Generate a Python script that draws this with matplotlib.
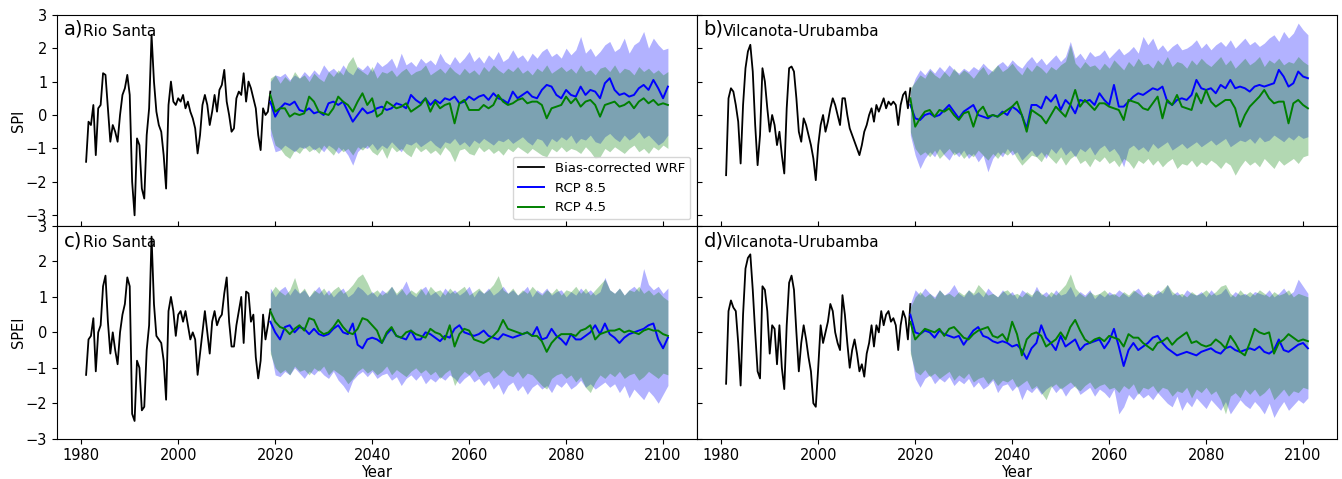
import numpy as np
import matplotlib
matplotlib.use("Agg")
import matplotlib.pyplot as plt

# ---------------- data ----------------
hist_start, hist_end, hist_step = 1981.0, 2019.0, 0.5
proj_start, proj_end = 2019, 2101

# a) SPI Rio Santa
spi_rs_hist = [
    -1.4, -0.2, -0.3, 0.3, -1.2, 0.2, 0.3, 1.25, 1.2, 0.2,
    -0.8, -0.3, -0.5, -0.8, 0.0, 0.6, 0.8, 1.2, 0.6, -2.0,
    -3.0, -0.7, -0.9, -2.2, -2.5, -0.6, 0.2, 2.4, 1.0, 0.1,
    -0.3, -0.5, -1.2, -2.2, 0.3, 1.0, 0.4, 0.3, 0.5, 0.4,
    0.6, 0.2, 0.4, 0.1, -0.1, -0.4, -1.15, -0.6, 0.3, 0.6,
    0.3, -0.3, 0.1, 0.6, 0.1, 0.75, 0.9, 1.35, 0.4, 0.0,
    -0.5, -0.4, 0.5, 0.7, 0.6, 1.25, 0.4, 1.0, 0.8, 0.5,
    0.2, -0.6, -1.05, 0.2, 0.0, 0.1, 0.7]
spi_rs_85 = [
    0.4, -0.05, 0.2, 0.35, 0.3, 0.4, 0.15, 0.1, 0.2, 0.05,
    0.1, 0.0, 0.35, 0.4, 0.3, 0.4, 0.1, -0.2, 0.0, 0.2,
    0.05, 0.1, 0.2, 0.25, 0.15, 0.2, 0.35, 0.3, 0.2, 0.6,
    0.45, 0.35, 0.5, 0.3, 0.45, 0.35, 0.5, 0.45, 0.55, 0.35,
    0.4, 0.55, 0.45, 0.55, 0.6, 0.45, 0.65, 0.5, 0.45, 0.35,
    0.7, 0.5, 0.6, 0.7, 0.55, 0.5, 0.75, 0.9, 0.85, 0.6,
    0.5, 0.75, 0.6, 0.55, 0.85, 0.6, 0.75, 0.7, 0.5, 0.95,
    1.1, 0.75, 0.6, 0.65, 0.55, 0.6, 0.8, 0.9, 0.75, 1.05,
    0.8, 0.5, 0.85]
spi_rs_45 = [
    0.6, 0.1, 0.2, 0.2, -0.05, 0.05, 0.0, 0.05, 0.55, 0.4,
    0.1, 0.05, 0.0, 0.2, 0.55, 0.4, 0.3, 0.1, 0.4, 0.65,
    0.3, 0.5, -0.05, 0.05, 0.4, 0.3, 0.2, 0.25, 0.35, 0.1,
    0.2, 0.3, 0.5, 0.1, 0.4, 0.2, 0.3, 0.35, -0.25, 0.35,
    0.45, 0.15, 0.15, 0.15, 0.3, 0.2, 0.3, 0.6, 0.4, 0.3,
    0.35, 0.45, 0.5, 0.35, 0.4, 0.4, 0.3, -0.1, 0.2, 0.25,
    0.3, 0.55, 0.35, 0.5, 0.25, 0.4, 0.45, 0.3, -0.05, 0.3,
    0.35, 0.4, 0.25, 0.3, 0.4, 0.2, 0.4, 0.5, 0.35, 0.45,
    0.3, 0.35, 0.3]
spi_rs_85_hi = [
    1.0, 1.2, 1.15, 1.25, 1.05, 1.2, 1.1, 1.3, 1.15, 1.35,
    1.2, 1.5, 1.3, 1.4, 1.25, 1.5, 1.3, 1.2, 1.45, 1.35,
    1.5, 1.3, 1.6, 1.45, 1.55, 1.7, 1.4, 1.85, 1.5, 1.6,
    1.45, 1.7, 1.55, 1.65, 1.5, 1.85, 1.6, 1.5, 1.75, 1.55,
    1.7, 1.9, 1.6, 1.75, 1.55, 1.8, 1.65, 1.9, 1.6, 1.7,
    1.95, 1.7, 1.8, 1.6, 1.85, 1.7, 1.9, 2.0, 1.75, 1.85,
    1.7, 2.0, 1.8, 1.95, 2.35, 1.85, 2.0, 1.75, 1.9, 2.1,
    2.2, 1.9, 2.0, 2.3, 1.85, 2.1, 2.2, 2.5, 2.0, 2.3,
    2.1, 1.95, 2.0]
spi_rs_85_lo = [
    -0.6, -1.1, -1.05, -0.9, -1.0, -1.1, -0.95, -1.0, -0.9, -1.05,
    -0.95, -1.1, -0.9, -1.0, -1.15, -1.0, -1.2, -1.5, -1.1, -0.95,
    -1.0, -0.85, -1.05, -0.9, -1.0, -0.8, -0.95, -1.1, -0.85, -0.9,
    -0.8, -0.95, -0.85, -0.75, -0.9, -1.0, -0.8, -0.85, -0.7, -0.9,
    -0.8, -0.95, -0.75, -0.85, -0.7, -0.8, -0.9, -0.75, -0.8, -0.7,
    -0.85, -0.75, -0.65, -0.8, -0.9, -0.7, -0.75, -0.95, -0.7, -0.8,
    -0.65, -0.75, -0.6, -0.85, -0.7, -0.75, -0.6, -0.8, -0.85, -0.65,
    -0.55, -0.7, -0.8, -0.6, -0.75, -0.65, -0.5, -0.7, -0.6, -0.75,
    -0.9, -0.8, -0.6]
spi_rs_45_hi = [
    1.1, 1.2, 0.95, 1.15, 1.0, 1.3, 1.1, 1.2, 1.0, 1.25,
    1.1, 1.0, 1.3, 1.15, 1.35, 1.2, 1.55, 1.75, 1.4, 1.3,
    1.2, 1.45, 1.1, 1.3, 1.25, 1.35, 1.15, 1.3, 1.4, 1.2,
    1.3, 1.35, 1.5, 1.2, 1.3, 1.4, 1.25, 1.45, 1.3, 1.2,
    1.4, 1.25, 1.35, 1.2, 1.45, 1.3, 1.5, 1.35, 1.25, 1.4,
    1.3, 1.45, 1.25, 1.35, 1.2, 1.4, 1.3, 1.5, 1.25, 1.35,
    1.45, 1.3, 1.4, 1.25, 1.5, 1.3, 1.35, 1.2, 1.4, 1.45,
    1.3, 1.5, 1.25, 1.4, 1.35, 1.2, 1.45, 1.3, 1.4, 1.25,
    1.35, 1.2, 1.3]
spi_rs_45_lo = [
    -0.4, -0.9, -1.0, -1.2, -1.3, -1.05, -1.15, -0.95, -1.1, -1.0,
    -1.15, -0.9, -1.05, -1.2, -0.95, -1.1, -1.0, -1.2, -0.95, -1.05,
    -0.9, -1.1, -1.2, -1.0, -1.3, -0.95, -1.1, -1.0, -1.15, -1.25,
    -0.95, -1.1, -1.0, -1.15, -1.05, -1.2, -0.95, -1.1, -1.4, -1.05,
    -1.0, -1.15, -1.2, -0.95, -1.1, -1.0, -1.15, -1.05, -1.2, -1.0,
    -1.1, -0.95, -1.05, -1.15, -1.0, -1.1, -1.2, -1.25, -1.0, -1.1,
    -0.95, -1.1, -1.0, -1.05, -1.15, -0.95, -1.1, -1.3, -1.25, -1.0,
    -1.1, -0.95, -1.05, -1.15, -1.0, -0.9, -1.1, -1.0, -1.15, -0.95,
    -1.05, -0.9, -1.0]

# b) SPI Vilcanota-Urubamba
spi_vu_hist = [
    -1.8, 0.5, 0.8, 0.7, 0.3, -0.2, -1.45, 0.3, 1.4, 1.9,
    2.1, 1.3, -0.3, -1.5, -0.6, 1.4, 1.0, 0.2, -0.5, 0.0,
    -0.3, -0.9, -0.5, -1.2, -1.75, 0.2, 1.4, 1.45, 1.3, 0.5,
    -0.5, -0.8, -0.1, -0.3, -0.6, -0.9, -1.3, -1.95, -0.9, -0.3,
    0.0, -0.5, -0.2, 0.2, 0.5, 0.3, 0.0, -0.3, 0.5, 0.5,
    0.0, -0.4, -0.6, -0.8, -1.0, -1.2, -0.9, -0.5, -0.3, 0.0,
    0.2, -0.2, 0.3, 0.1, 0.3, 0.5, 0.2, 0.4, 0.3, 0.4,
    0.3, -0.3, 0.3, 0.6, 0.7, 0.2, 0.8]
spi_vu_85 = [
    0.3, -0.1, -0.15, 0.0, 0.05, -0.05, 0.0, 0.15, 0.3, 0.1,
    -0.1, 0.1, 0.2, 0.3, 0.0, -0.05, -0.1, 0.0, -0.05, 0.1,
    0.0, 0.25, 0.15, 0.0, -0.4, 0.3, 0.3, 0.2, 0.55, 0.4,
    0.6, 0.15, 0.45, 0.3, 0.05, 0.45, 0.4, 0.45, 0.3, 0.65,
    0.45, 0.3, 0.9, 0.25, 0.25, 0.4, 0.55, 0.65, 0.6, 0.7,
    0.8, 0.75, 0.85, 0.4, 0.3, 0.45, 0.5, 0.45, 0.6, 1.05,
    0.8, 0.75, 0.8, 0.65, 0.9, 0.8, 1.05, 0.8, 0.85, 0.8,
    0.7, 0.85, 0.9, 0.85, 0.9, 0.95, 1.35, 1.15, 0.85, 0.95,
    1.3, 1.15, 1.1]
spi_vu_45 = [
    0.5, -0.35, -0.1, 0.1, 0.15, -0.05, 0.15, 0.1, 0.2, 0.0,
    -0.15, 0.05, 0.1, -0.35, 0.1, 0.25, -0.05, 0.0, -0.05, 0.05,
    0.15, 0.25, 0.4, 0.0, -0.5, 0.15, 0.05, -0.05, -0.25, 0.0,
    0.25, 0.1, -0.05, 0.3, 0.75, 0.25, 0.45, 0.3, 0.15, 0.35,
    0.35, 0.25, 0.2, 0.15, -0.15, 0.45, 0.4, 0.35, 0.2, 0.15,
    0.35, 0.55, -0.1, 0.45, 0.3, 0.6, 0.25, 0.2, 0.15, 0.65,
    0.35, 0.75, 0.4, 0.25, 0.35, 0.45, 0.45, 0.2, -0.35, 0.0,
    0.25, 0.4, 0.55, 0.75, 0.5, 0.35, 0.4, 0.4, -0.25, 0.35,
    0.45, 0.3, 0.2]
spi_vu_85_hi = [
    0.7, 1.1, 1.35, 1.2, 1.4, 1.25, 1.45, 1.3, 1.5, 1.35,
    1.25, 1.4, 1.3, 1.45, 1.35, 1.55, 1.4, 1.3, 1.5, 1.6,
    1.45, 1.65, 1.5, 1.4, 1.6, 1.75, 1.55, 1.7, 1.5, 1.65,
    1.8, 1.6, 1.75, 2.2, 1.7, 1.85, 1.65, 1.9, 1.75, 1.8,
    1.95, 1.7, 1.85, 2.0, 1.8, 1.9, 2.05, 1.85, 2.35, 2.1,
    2.3, 1.95, 2.1, 1.9, 2.05, 2.15, 1.95, 2.0, 2.1, 2.25,
    2.0, 2.15, 1.95, 2.1, 2.2, 2.05, 2.25, 2.0, 2.15, 2.3,
    2.1, 2.2, 2.05, 2.15, 2.3, 2.4, 2.2, 2.5, 2.3, 2.45,
    2.75, 2.55, 2.4]
spi_vu_85_lo = [
    -0.6, -1.2, -1.6, -1.3, -1.1, -1.25, -1.0, -1.2, -1.35, -1.1,
    -1.25, -1.05, -1.3, -1.15, -1.4, -1.2, -1.7, -1.3, -1.1, -1.25,
    -1.0, -1.2, -1.1, -1.35, -1.2, -1.05, -1.25, -1.1, -1.3, -1.0,
    -1.15, -0.95, -1.2, -1.05, -1.25, -1.0, -1.1, -0.95, -1.2, -1.0,
    -0.9, -1.1, -1.0, -1.2, -1.55, -1.0, -0.9, -1.05, -0.95, -1.1,
    -0.85, -1.0, -0.9, -0.8, -1.05, -0.95, -0.85, -1.0, -0.9, -0.8,
    -0.95, -0.85, -0.75, -0.9, -0.8, -0.7, -0.95, -0.85, -0.75, -0.8,
    -0.7, -0.85, -0.65, -0.8, -0.75, -0.6, -0.7, -0.8, -0.65, -0.75,
    -0.6, -0.7, -0.65]
spi_vu_45_hi = [
    0.8, 1.0, 1.2, 1.1, 1.35, 1.2, 1.1, 1.3, 1.15, 1.4,
    1.2, 1.35, 1.25, 1.1, 1.3, 1.45, 1.2, 1.35, 1.5, 1.3,
    1.4, 1.55, 1.35, 1.2, 1.45, 1.3, 1.5, 1.4, 1.25, 1.45,
    1.35, 1.5, 1.6, 2.1, 1.55, 1.4, 1.6, 1.45, 1.5, 1.35,
    1.55, 1.4, 1.65, 1.5, 1.35, 1.6, 1.45, 1.7, 1.5, 1.55,
    1.4, 1.65, 1.5, 1.75, 1.45, 1.6, 1.55, 1.4, 1.65, 1.5,
    1.7, 1.55, 1.45, 1.6, 1.75, 1.5, 1.65, 1.4, 1.55, 1.7,
    1.5, 1.6, 1.75, 1.45, 1.65, 1.55, 1.7, 1.5, 1.6, 1.55,
    1.75, 1.6, 1.5]
spi_vu_45_lo = [
    -0.5, -1.0, -1.2, -1.1, -1.25, -1.05, -1.3, -1.15, -1.0, -1.2,
    -1.1, -1.3, -1.15, -1.25, -1.05, -1.2, -1.35, -1.15, -1.3, -1.1,
    -1.2, -1.05, -1.3, -1.5, -1.35, -1.2, -1.25, -1.4, -1.15, -1.3,
    -1.45, -1.25, -1.5, -1.3, -1.2, -1.45, -1.35, -1.55, -1.3, -1.4,
    -1.25, -1.45, -1.35, -1.55, -1.3, -1.4, -1.6, -1.35, -1.45, -1.3,
    -1.5, -1.35, -1.55, -1.4, -1.3, -1.6, -1.45, -1.5, -1.35, -1.55,
    -1.4, -1.5, -1.35, -1.45, -1.6, -1.4, -1.5, -1.8, -1.55, -1.35,
    -1.5, -1.4, -1.55, -1.3, -1.45, -1.6, -1.35, -1.5, -1.4, -1.3,
    -1.45, -1.25, -1.2]

# c) SPEI Rio Santa
spei_rs_hist = [
    -1.2, -0.2, -0.1, 0.4, -1.1, 0.0, 0.2, 1.3, 1.6, 0.3,
    -0.6, 0.0, -0.5, -0.9, 0.0, 0.5, 0.8, 1.55, 1.3, -2.3,
    -2.5, -0.8, -1.0, -2.2, -2.1, -0.5, 0.2, 2.7, 0.8, -0.1,
    -0.2, -0.3, -0.8, -1.9, 0.6, 1.0, 0.6, -0.1, 0.5, 0.6,
    0.3, 0.6, 0.2, -0.2, 0.0, -0.2, -1.2, -0.6, 0.0, 0.6,
    0.0, -0.6, 0.3, 0.6, 0.2, 0.4, 0.5, 1.1, 1.55, 0.3,
    -0.4, -0.4, 0.2, 0.6, 1.0, -0.3, 1.15, 1.1, 0.3, 0.5,
    -0.7, -1.3, -0.8, 0.5, -0.2, 0.2, 0.65]
spei_rs_85 = [
    0.3, 0.0, -0.2, 0.15, 0.2, 0.0, 0.15, 0.1, -0.05, 0.1,
    -0.05, -0.1, -0.05, 0.1, 0.2, 0.0, -0.05, 0.25, -0.35, -0.45,
    -0.2, -0.15, -0.2, -0.3, -0.05, 0.1, -0.1, -0.15, -0.2, 0.05,
    -0.2, -0.2, 0.0, -0.05, -0.15, -0.25, -0.1, -0.15, 0.1, 0.2,
    0.0, -0.05, -0.1, -0.05, 0.05, -0.1, -0.15, -0.2, -0.05, -0.1,
    -0.15, -0.1, -0.05, 0.0, -0.1, 0.15, -0.2, -0.15, 0.1, -0.1,
    -0.2, -0.35, -0.05, -0.2, -0.2, -0.1, 0.0, 0.2, -0.05, 0.25,
    -0.05, -0.15, -0.3, -0.15, -0.05, 0.0, 0.05, 0.1, 0.2, 0.25,
    -0.2, -0.45, -0.15]
spei_rs_45 = [
    0.6, 0.3, 0.15, 0.1, -0.05, 0.1, 0.2, 0.05, 0.4, 0.35,
    0.05, -0.05, 0.0, 0.15, 0.35, 0.15, 0.0, -0.05, 0.1, 0.4,
    0.35, 0.2, 0.05, -0.3, 0.0, 0.15, -0.1, -0.15, 0.0, 0.05,
    -0.05, -0.1, -0.15, 0.1, 0.0, -0.05, -0.2, 0.2, -0.4, -0.05,
    0.1, 0.05, -0.2, -0.25, -0.3, -0.2, -0.1, 0.05, 0.35, 0.1,
    0.05, 0.0, -0.05, 0.0, -0.1, -0.1, -0.25, -0.55, -0.3, -0.15,
    -0.05, -0.05, -0.05, -0.1, 0.05, 0.1, 0.2, -0.2, -0.05, 0.0,
    0.05, 0.05, 0.1, 0.0, 0.05, 0.0, -0.05, 0.05, 0.1, 0.05,
    0.05, -0.05, -0.1]
spei_rs_85_hi = [
    1.25, 1.0, 1.2, 1.3, 1.05, 1.25, 1.1, 1.2, 1.0, 1.15,
    1.3, 1.05, 1.2, 1.0, 1.15, 1.25, 1.0, 1.1, 1.3, 1.2,
    1.05, 1.15, 1.0, 1.2, 1.1, 1.3, 1.05, 1.2, 1.45, 1.1,
    1.0, 1.2, 1.3, 1.05, 1.15, 1.0, 1.25, 1.1, 1.2, 1.05,
    1.15, 1.3, 1.0, 1.2, 1.1, 1.25, 1.05, 1.15, 1.3, 1.1,
    1.2, 1.05, 1.15, 1.3, 1.0, 1.2, 1.1, 1.25, 1.05, 1.15,
    1.2, 1.0, 1.15, 1.05, 1.25, 1.1, 1.2, 1.05, 1.15, 1.55,
    1.2, 1.1, 1.25, 1.05, 1.2, 1.3, 1.15, 1.8, 1.35, 1.2,
    1.3, 1.1, 1.25]
spei_rs_85_lo = [
    -0.5, -1.2, -1.25, -1.1, -1.2, -1.0, -1.15, -1.3, -1.1, -1.2,
    -1.05, -1.2, -1.3, -1.1, -1.35, -1.5, -1.7, -1.35, -1.2, -1.1,
    -1.25, -1.1, -1.3, -1.2, -1.15, -1.35, -1.25, -1.5, -1.3, -1.2,
    -1.35, -1.2, -1.45, -1.3, -1.4, -1.25, -1.35, -1.2, -1.3, -1.45,
    -1.3, -1.2, -1.4, -1.3, -1.5, -1.35, -1.6, -1.45, -1.75, -1.5,
    -1.4, -1.65, -1.5, -1.75, -1.55, -1.45, -1.6, -1.5, -1.7, -1.45,
    -1.55, -1.4, -1.6, -1.5, -1.35, -1.55, -1.45, -1.6, -1.5, -1.4,
    -1.55, -1.45, -1.7, -1.5, -1.85, -1.6, -1.75, -1.9, -1.65, -1.8,
    -2.0, -1.75, -1.5]
spei_rs_45_hi = [
    1.1, 1.3, 1.15, 1.05, 1.2, 1.55, 1.1, 1.25, 1.0, 1.2,
    1.1, 1.25, 1.05, 1.2, 1.3, 1.1, 1.2, 1.35, 1.55, 1.65,
    1.4, 1.1, 1.2, 1.05, 1.15, 1.3, 1.1, 1.25, 1.05, 1.2,
    1.1, 1.25, 1.05, 1.3, 1.15, 1.2, 1.05, 1.25, 1.1, 1.2,
    1.3, 1.05, 1.15, 1.25, 1.1, 1.2, 1.35, 1.6, 1.2, 1.1,
    1.25, 1.05, 1.2, 1.1, 1.3, 1.15, 1.05, 1.2, 1.1, 1.25,
    1.05, 1.2, 1.15, 1.3, 1.1, 1.25, 1.05, 1.2, 1.35, 1.5,
    1.2, 1.1, 1.25, 1.05, 1.2, 1.15, 1.3, 1.1, 1.2, 1.05,
    1.15, 1.0, 0.9]
spei_rs_45_lo = [
    -0.6, -1.0, -1.15, -1.05, -1.2, -0.95, -1.1, -1.05, -1.2, -1.0,
    -1.1, -0.95, -1.2, -1.05, -1.15, -1.25, -1.45, -1.3, -1.1, -1.0,
    -1.15, -1.05, -1.2, -1.1, -0.95, -1.2, -1.05, -1.15, -1.25, -1.1,
    -1.0, -1.15, -1.05, -1.2, -1.1, -1.3, -1.15, -1.05, -1.5, -1.25,
    -1.1, -1.2, -1.05, -1.25, -1.15, -1.1, -1.3, -1.2, -1.05, -1.2,
    -1.25, -1.1, -1.3, -1.15, -1.2, -1.35, -1.5, -1.6, -1.3, -1.2,
    -1.15, -1.3, -1.2, -1.4, -1.25, -1.55, -1.7, -1.4, -1.2, -1.3,
    -1.15, -1.25, -1.1, -1.3, -1.2, -1.15, -1.35, -1.25, -1.1, -1.2,
    -1.3, -1.15, -1.2]

# d) SPEI Vilcanota-Urubamba
spei_vu_hist = [
    -1.45, 0.6, 0.9, 0.7, 0.6, -0.3, -1.5, 0.5, 1.8, 2.1,
    2.2, 1.2, 0.0, -1.1, -1.3, 1.3, 1.2, 0.6, -0.6, 0.2,
    0.1, -0.9, 0.2, -1.0, -1.6, 0.2, 1.4, 1.6, 1.2, 0.0,
    -1.1, -0.3, 0.2, -0.2, -0.7, -1.1, -2.0, -2.1, -1.0, 0.2,
    -0.3, 0.0, 0.3, 0.8, 0.6, 0.0, -0.3, -0.5, 1.05, 0.5,
    -0.3, -1.0, -0.5, -0.2, -0.6, -1.1, -0.9, -1.25, -0.6, -0.3,
    0.2, -0.4, 0.2, 0.0, 0.6, 0.2, 0.5, 0.6, 0.3, 0.4,
    0.2, -0.5, 0.2, 0.6, 0.4, -0.2, 0.8]
spei_vu_85 = [
    0.5, 0.0, -0.05, 0.05, 0.0, -0.15, 0.05, -0.05, -0.1, -0.15,
    -0.1, -0.35, -0.15, 0.05, 0.15, -0.1, -0.15, -0.25, -0.3, -0.25,
    -0.3, -0.4, -0.35, -0.5, -0.75, -0.45, -0.3, 0.2, -0.15, -0.3,
    -0.5, -0.1, -0.4, -0.3, -0.2, -0.5, -0.35, -0.3, -0.25, -0.2,
    -0.45, -0.25, 0.1, -0.4, -0.95, -0.5, -0.3, -0.5, -0.4, -0.3,
    -0.15, -0.1, -0.3, -0.45, -0.55, -0.65, -0.6, -0.55, -0.6, -0.65,
    -0.55, -0.5, -0.45, -0.55, -0.6, -0.45, -0.4, -0.5, -0.55, -0.5,
    -0.45, -0.5, -0.4, -0.55, -0.6, -0.5, -0.2, -0.5, -0.55, -0.45,
    -0.35, -0.3, -0.45]
spei_vu_45 = [
    0.3, -0.2, -0.05, 0.1, 0.05, 0.0, 0.1, -0.1, 0.1, 0.15,
    0.0, -0.15, -0.2, -0.05, 0.05, 0.1, 0.15, -0.1, -0.15, -0.05,
    -0.25, 0.3, -0.05, -0.65, -0.2, -0.05, 0.0, -0.1, -0.4, -0.3,
    -0.2, 0.0, -0.2, 0.15, 0.35, 0.05, -0.2, -0.3, -0.2, -0.15,
    -0.25, -0.1, -0.15, -0.2, -0.4, -0.05, -0.15, -0.15, -0.3, -0.4,
    -0.5, -0.3, -0.25, -0.15, -0.35, -0.2, -0.1, 0.0, -0.3, -0.25,
    -0.35, -0.4, -0.35, -0.2, -0.3, -0.45, -0.1, -0.3, -0.55, -0.65,
    -0.3, 0.1, 0.0, -0.05, 0.0, -0.6, -0.3, -0.2, -0.05, -0.15,
    -0.25, -0.2, -0.25]
spei_vu_85_hi = [
    0.8, 1.2, 1.05, 1.25, 1.1, 1.0, 1.2, 1.05, 1.15, 1.35,
    1.1, 1.0, 1.2, 1.05, 1.15, 1.0, 1.25, 1.1, 1.0, 1.2,
    1.05, 1.15, 0.95, 1.2, 1.1, 1.0, 1.3, 1.05, 1.15, 1.0,
    1.2, 1.05, 1.1, 1.3, 1.0, 1.15, 1.05, 1.2, 0.95, 1.1,
    1.0, 1.15, 1.05, 1.2, 1.1, 1.0, 1.15, 1.25, 1.05, 1.1,
    1.0, 1.2, 1.1, 1.35, 1.05, 1.15, 1.0, 1.2, 1.1, 1.05,
    1.15, 1.0, 1.2, 1.05, 1.1, 1.25, 1.0, 1.15, 1.05, 1.1,
    1.0, 1.15, 1.1, 1.05, 1.2, 1.0, 1.1, 1.25, 1.05, 1.15,
    1.5, 1.3, 1.1]
spei_vu_85_lo = [
    -0.5, -1.3, -1.55, -1.3, -1.2, -1.45, -1.3, -1.4, -1.25, -1.5,
    -1.35, -1.45, -1.3, -1.55, -1.4, -1.6, -1.5, -1.35, -1.7, -1.5,
    -1.45, -1.65, -1.5, -1.9, -1.6, -1.7, -1.55, -1.75, -1.6, -1.5,
    -1.7, -1.55, -1.8, -1.6, -1.5, -1.75, -1.65, -1.55, -1.8, -1.6,
    -1.7, -1.85, -1.6, -2.3, -2.1, -1.75, -1.9, -1.7, -1.85, -1.75,
    -1.9, -1.7, -1.85, -2.0, -2.1, -1.8, -2.2, -1.95, -2.1, -1.85,
    -2.0, -2.15, -1.9, -2.05, -2.2, -1.95, -2.3, -2.1, -1.9, -2.05,
    -2.15, -1.95, -2.1, -2.3, -2.0, -2.4, -2.15, -1.95, -2.2, -2.05,
    -1.9, -2.0, -1.85]
spei_vu_45_hi = [
    0.7, 1.0, 1.15, 1.0, 1.1, 0.95, 1.2, 1.05, 1.1, 1.0,
    1.15, 1.05, 1.2, 1.1, 1.35, 1.2, 1.05, 1.1, 1.0, 1.15,
    1.2, 1.05, 1.1, 1.0, 1.15, 1.05, 1.2, 1.1, 1.0, 1.15,
    1.05, 1.2, 1.35, 1.65, 1.25, 1.1, 1.0, 1.15, 1.05, 1.1,
    1.2, 1.05, 1.1, 1.0, 1.15, 1.05, 1.2, 1.1, 1.0, 1.15,
    1.05, 1.1, 1.2, 1.35, 1.15, 1.05, 1.1, 1.0, 1.15, 1.05,
    1.1, 1.2, 1.05, 1.15, 1.3, 1.35, 1.1, 1.0, 1.2, 1.05,
    1.15, 1.05, 1.2, 1.1, 1.0, 1.15, 1.05, 1.1, 1.2, 1.0,
    1.1, 1.05, 1.0]
spei_vu_45_lo = [
    -0.6, -1.1, -1.2, -1.05, -1.25, -1.15, -1.3, -1.2, -1.1, -1.35,
    -1.2, -1.3, -1.15, -1.4, -1.3, -1.25, -1.45, -1.3, -1.5, -1.35,
    -1.4, -1.3, -1.55, -1.45, -1.35, -1.6, -1.5, -1.7, -1.9, -1.55,
    -1.45, -1.6, -1.5, -1.4, -1.55, -1.65, -1.5, -1.4, -1.6, -1.5,
    -1.45, -1.6, -1.55, -1.7, -1.5, -1.6, -1.45, -1.75, -1.55, -1.6,
    -1.5, -1.7, -1.55, -1.6, -1.8, -1.65, -1.7, -1.55, -1.85, -1.6,
    -1.7, -1.55, -1.75, -1.65, -1.9, -2.3, -1.8, -1.7, -1.85, -1.6,
    -1.75, -1.6, -1.8, -1.7, -1.55, -1.9, -1.75, -1.6, -1.8, -1.65,
    -1.7, -1.55, -1.6]

panel_letters = ["a)", "b)", "c)", "d)"]
panel_basins = ["Rio Santa", "Vilcanota-Urubamba", "Rio Santa", "Vilcanota-Urubamba"]
row_ylabels = ["SPI", "SPEI"]
legend_labels = ["Bias-corrected WRF", "RCP 8.5", "RCP 4.5"]
xticks = [1980, 2000, 2020, 2040, 2060, 2080, 2100]
yticks = [-3, -2, -1, 0, 1, 2, 3]

# ---------------- plot ----------------
hist_years = np.arange(hist_start, hist_end + 1e-9, hist_step)
proj_years = np.arange(proj_start, proj_end + 1)

panels = [
    (spi_rs_hist, spi_rs_85, spi_rs_45, spi_rs_85_hi, spi_rs_85_lo, spi_rs_45_hi, spi_rs_45_lo),
    (spi_vu_hist, spi_vu_85, spi_vu_45, spi_vu_85_hi, spi_vu_85_lo, spi_vu_45_hi, spi_vu_45_lo),
    (spei_rs_hist, spei_rs_85, spei_rs_45, spei_rs_85_hi, spei_rs_85_lo, spei_rs_45_hi, spei_rs_45_lo),
    (spei_vu_hist, spei_vu_85, spei_vu_45, spei_vu_85_hi, spei_vu_85_lo, spei_vu_45_hi, spei_vu_45_lo),
]

W, H = 1342, 479
plt.rcParams["font.family"] = "DejaVu Sans"
fig = plt.figure(figsize=(W / 100, H / 100), dpi=100)

left, pw = 57 / W, 640 / W
top_y0, top_h = 1 - 226 / H, (226 - 14.7) / H
bot_y0, bot_h = 1 - 438.7 / H, (438.7 - 226) / H
rects = [
    (left, top_y0, pw, top_h),
    (left + pw, top_y0, pw, top_h),
    (left, bot_y0, pw, bot_h),
    (left + pw, bot_y0, pw, bot_h),
]

for i, (rect, data) in enumerate(zip(rects, panels)):
    hist, m85, m45, h85, l85, h45, l45 = data
    ax = fig.add_axes(rect)
    ax.fill_between(proj_years, l85, h85, color="blue", alpha=0.3, linewidth=0)
    ax.fill_between(proj_years, l45, h45, color="green", alpha=0.3, linewidth=0)
    l1, = ax.plot(hist_years, hist, color="black", lw=1.3, label=legend_labels[0])
    l2, = ax.plot(proj_years, m85, color="blue", lw=1.4, label=legend_labels[1])
    l3, = ax.plot(proj_years, m45, color="green", lw=1.4, label=legend_labels[2])

    ax.set_xlim(1975, 2107)
    row, col = divmod(i, 2)
    if row == 0:
        ax.set_ylim(-3.32, 3)
    else:
        ax.set_ylim(-3, 3)
    ax.set_xticks(xticks)
    ax.set_yticks(yticks)
    ax.tick_params(labelsize=10.5)
    if row == 0:
        ax.tick_params(axis="x", direction="in", labelbottom=False)
    else:
        ax.set_xlabel("Year", fontsize=10.5, labelpad=1)
    if col == 1:
        ax.tick_params(axis="y", direction="in", labelleft=False)
    else:
        ax.set_ylabel(row_ylabels[row], fontsize=10.5, labelpad=0)

    ax.text(0.01, 0.975, panel_letters[i], transform=ax.transAxes,
            fontsize=14, va="top", ha="left")
    ax.text(0.041, 0.958, panel_basins[i], transform=ax.transAxes,
            fontsize=11, va="top", ha="left")

    if i == 0:
        ax.legend(handles=[l1, l2, l3], loc="lower right", fontsize=9.5)

fig.savefig("out.png", dpi=100)
